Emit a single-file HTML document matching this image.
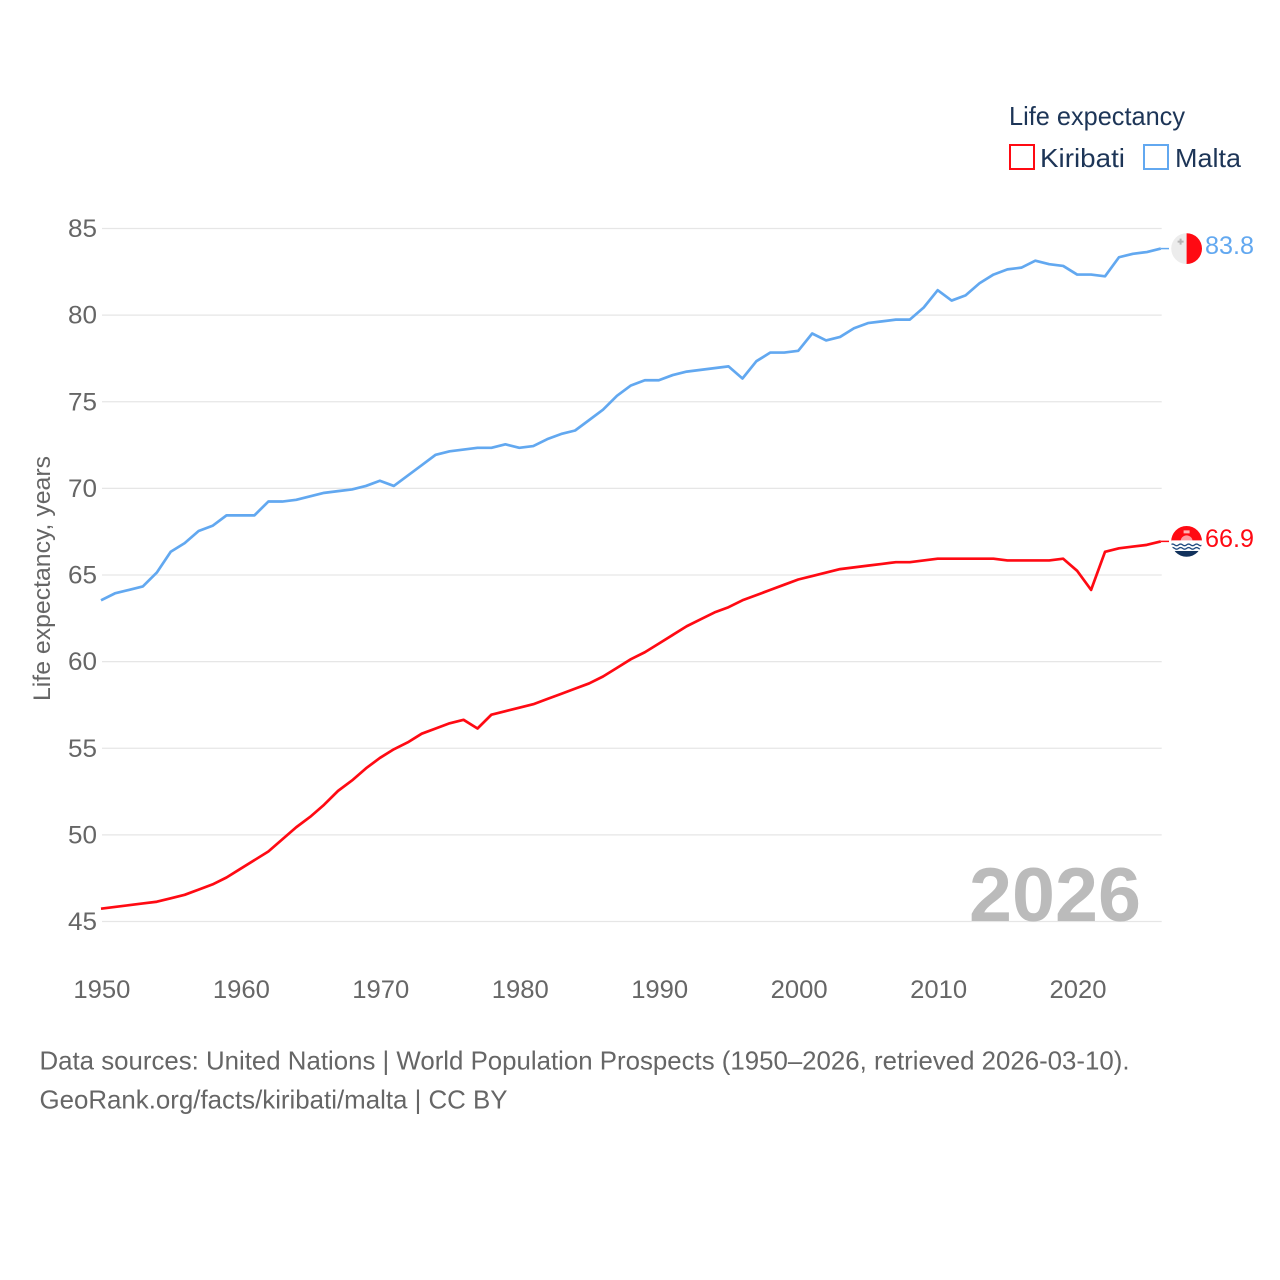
<!DOCTYPE html>
<html lang="en">
<head>
<meta charset="utf-8">
<title>Life expectancy: Kiribati and Malta</title>
<style>
html,body{margin:0;padding:0;background:#fff;}
svg{display:block;font-family:"Liberation Sans",sans-serif;}
</style>
</head>
<body>
<svg id="chart" width="1280" height="1280" viewBox="0 0 1280 1280" xmlns="http://www.w3.org/2000/svg">
  <defs>
    <clipPath id="flag-clip"><circle cx="0" cy="0" r="15.4"/></clipPath>
  </defs>
  <rect width="1280" height="1280" fill="#fff"/>
  <g id="grid"></g>
  <g id="yticks"></g>
  <g id="xticks"></g>
  <text x="969" y="921" font-size="76" font-weight="700" fill="#bbb" textLength="172" lengthAdjust="spacingAndGlyphs">2026</text>
  <g id="series"></g>
  <text transform="translate(50,701) rotate(-90)" font-size="24" fill="#666" textLength="245" lengthAdjust="spacingAndGlyphs">Life expectancy, years</text>

  <g>
    <text x="1009" y="125" font-size="26" fill="#1d3557" textLength="176" lengthAdjust="spacingAndGlyphs">Life expectancy</text>
    <rect x="1010" y="145" width="24" height="24" fill="#fff" stroke="#ff0a13" stroke-width="2"/>
    <text x="1040" y="167" font-size="26" fill="#1d3557" textLength="85" lengthAdjust="spacingAndGlyphs">Kiribati</text>
    <rect x="1144" y="145" width="24" height="24" fill="#fff" stroke="#62a8f0" stroke-width="2"/>
    <text x="1175" y="167" font-size="26" fill="#1d3557" textLength="66" lengthAdjust="spacingAndGlyphs">Malta</text>
  </g>

  <g id="flag-malta">
    <g clip-path="url(#flag-clip)">
      <rect x="-16" y="-16" width="16" height="32" fill="#ececec"/>
      <rect x="0" y="-16" width="16" height="32" fill="#ff0a13"/>
      <path d="M-7 -10h2v2h2v2h-2v2h-2v-2h-2v-2h2z" fill="#b5b5b5"/>
    </g>
  </g>
  <g id="flag-kiribati">
    <g clip-path="url(#flag-clip)">
      <rect x="-16" y="-16" width="32" height="16" fill="#ff0a13"/>
      <path d="M-6 0 A6 6 0 0 1 6 0 Z" fill="#ff9aa0"/>
      <path d="M-3 -11 h6 v3 h-6 z" fill="#ffb3b3"/>
      <rect x="-16" y="-1" width="32" height="17" fill="#fff"/>
      <path d="M-16 3.5 q2 -1.6 4 0 t4 0 t4 0 t4 0 t4 0 t4 0 t4 0 t4 0" fill="none" stroke="#1f4a80" stroke-width="1.4"/>
      <path d="M-16 7 q2 -1.6 4 0 t4 0 t4 0 t4 0 t4 0 t4 0 t4 0 t4 0" fill="none" stroke="#1f4a80" stroke-width="1.4"/>
      <rect x="-16" y="9.6" width="32" height="7" fill="#11315c"/>
    </g>
  </g>
  <text x="1205" y="254" font-size="25" fill="#62a8f0" textLength="49" lengthAdjust="spacingAndGlyphs">83.8</text>
  <text x="1205" y="547" font-size="25" fill="#ff0a13" textLength="49" lengthAdjust="spacingAndGlyphs">66.9</text>

  <text x="39.5" y="1069.5" font-size="26" fill="#666" textLength="1090" lengthAdjust="spacingAndGlyphs">Data sources: United Nations | World Population Prospects (1950–2026, retrieved 2026-03-10).</text>
  <text x="39.5" y="1108.5" font-size="26" fill="#666" textLength="468" lengthAdjust="spacingAndGlyphs">GeoRank.org/facts/kiribati/malta | CC BY</text>
</svg>
<script>
const startYear = 1950;
const yTickValues = [45, 50, 55, 60, 65, 70, 75, 80, 85];
const xTickValues = [1950, 1960, 1970, 1980, 1990, 2000, 2010, 2020];
const maltaValues = [
  63.5, 63.9, 64.1, 64.3, 65.1, 66.3, 66.8, 67.5, 67.8, 68.4,
  68.4, 68.4, 69.2, 69.2, 69.3, 69.5, 69.7, 69.8, 69.9, 70.1,
  70.4, 70.1, 70.7, 71.3, 71.9, 72.1, 72.2, 72.3, 72.3, 72.5,
  72.3, 72.4, 72.8, 73.1, 73.3, 73.9, 74.5, 75.3, 75.9, 76.2,
  76.2, 76.5, 76.7, 76.8, 76.9, 77.0, 76.3, 77.3, 77.8, 77.8,
  77.9, 78.9, 78.5, 78.7, 79.2, 79.5, 79.6, 79.7, 79.7, 80.4,
  81.4, 80.8, 81.1, 81.8, 82.3, 82.6, 82.7, 83.1, 82.9, 82.8,
  82.3, 82.3, 82.2, 83.3, 83.5, 83.6, 83.8
];
const kiribatiValues = [
  45.7, 45.8, 45.9, 46.0, 46.1, 46.3, 46.5, 46.8, 47.1, 47.5,
  48.0, 48.5, 49.0, 49.7, 50.4, 51.0, 51.7, 52.5, 53.1, 53.8,
  54.4, 54.9, 55.3, 55.8, 56.1, 56.4, 56.6, 56.1, 56.9, 57.1,
  57.3, 57.5, 57.8, 58.1, 58.4, 58.7, 59.1, 59.6, 60.1, 60.5,
  61.0, 61.5, 62.0, 62.4, 62.8, 63.1, 63.5, 63.8, 64.1, 64.4,
  64.7, 64.9, 65.1, 65.3, 65.4, 65.5, 65.6, 65.7, 65.7, 65.8,
  65.9, 65.9, 65.9, 65.9, 65.9, 65.8, 65.8, 65.8, 65.8, 65.9,
  65.2, 64.1, 66.3, 66.5, 66.6, 66.7, 66.9
];

const NS = 'http://www.w3.org/2000/svg';
function xScale(year) { return 101 + (year - 1950) * (1160.8 - 101) / 76; }
function yScale(v) { return 921.5 - (v - 45) * (921.5 - 228.5) / 40; }
const lineYOffset = -0.7;
function pathFor(values) {
  return values.map(function (v, i) {
    return (i ? 'L' : 'M') + xScale(startYear + i).toFixed(2) + ' ' + (yScale(v) + lineYOffset).toFixed(2);
  }).join(' ');
}
function svgEl(tag, attrs, parent) {
  const el = document.createElementNS(NS, tag);
  Object.keys(attrs).forEach(function (k) { el.setAttribute(k, attrs[k]); });
  parent.appendChild(el);
  return el;
}

const grid = document.getElementById('grid');
const yticks = document.getElementById('yticks');
const xticks = document.getElementById('xticks');
const series = document.getElementById('series');

yTickValues.forEach(function (v) {
  const line = svgEl('line', { x1: 102, x2: 1161.7, y1: yScale(v), y2: yScale(v), stroke: '#e6e6e6', 'stroke-width': 1.2 }, grid);
  
  
  const label = svgEl('text', { x: 68, y: yScale(v) + 8.5, 'font-size': 25, fill: '#666', textLength: 29, lengthAdjust: 'spacingAndGlyphs' }, yticks);
  label.textContent = String(v);
  
  
});

xTickValues.forEach(function (yr) {
  const label = svgEl('text', { x: xScale(yr) - 27.6, y: 998, 'font-size': 25, fill: '#666', textLength: 57, lengthAdjust: 'spacingAndGlyphs' }, xticks);
  label.textContent = String(yr);
  
  
});

function drawSeries(values, color, name) {
  const line = svgEl('path', { d: pathFor(values), fill: 'none', stroke: color, 'stroke-width': 2.7, 'stroke-linejoin': 'round' }, series);
  
  
  const lastY = yScale(values[values.length - 1]) + lineYOffset;
  const connector = svgEl('line', { x1: xScale(2026), x2: 1169, y1: lastY, y2: lastY, stroke: color, 'stroke-width': 1.5 }, series);
  
  
  document.getElementById('flag-' + name).setAttribute('transform', 'translate(1186.6,' + lastY.toFixed(2) + ')');
}
drawSeries(maltaValues, '#62a8f0', 'malta');
drawSeries(kiribatiValues, '#ff0a13', 'kiribati');
</script>
</body>
</html>
